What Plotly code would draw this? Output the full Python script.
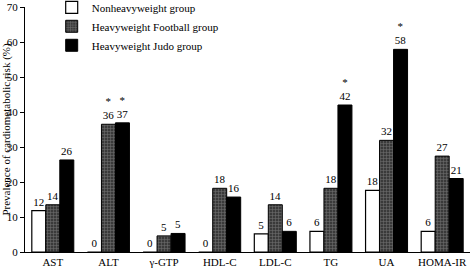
import plotly.graph_objects as go

categories = ["AST", "ALT", "γ-GTP", "HDL-C", "LDL-C", "TG", "UA", "HOMA-IR"]
series_names = ["Nonheavyweight group", "Heavyweight Football group", "Heavyweight Judo group"]
nonheavy = [11.8, 0, 0, 0, 5.2, 5.9, 17.6, 5.9]
football = [13.5, 36.5, 4.6, 18.2, 13.5, 18.2, 31.9, 27.4]
judo = [26.3, 36.9, 5.3, 15.7, 5.9, 42.0, 57.9, 21.0]
nonheavy_labels = ["12", "0", "0", "0", "5", "6", "18", "6"]
football_labels = ["14", "*<br>36", "5", "18", "14", "18", "32", "27"]
judo_labels = ["26", "*<br>37", "5", "16", "6", "*<br>42", "*<br>58", "21"]
y_ticks = [0, 10, 20, 30, 40, 50, 60, 70]

font = "Liberation Serif"
fig = go.Figure()
fig.add_bar(x=categories, y=nonheavy, name=series_names[0], text=nonheavy_labels,
            marker=dict(color="white", line=dict(color="black", width=1.2)))
fig.add_bar(x=categories, y=football, name=series_names[1], text=football_labels,
            marker=dict(color="#3a3a3a", line=dict(color="black", width=1),
                        pattern=dict(shape="+", fgcolor="#a0a0a0", bgcolor="#3a3a3a", size=3, solidity=0.35)))
fig.add_bar(x=categories, y=judo, name=series_names[2], text=judo_labels,
            marker=dict(color="black", line=dict(color="black", width=1)))
fig.update_traces(textposition="outside", cliponaxis=False,
                  textfont=dict(family=font, size=11, color="black"))
fig.update_layout(
    width=471, height=271,
    margin=dict(l=25, r=1, t=7, b=19, autoexpand=False),
    paper_bgcolor="white", plot_bgcolor="white",
    barmode="group", bargap=0.245, bargroupgap=0,
    font=dict(family=font, size=11, color="black"),
    showlegend=True,
    legend=dict(x=0.06, y=1.058, xanchor="left", yanchor="top", bgcolor="rgba(0,0,0,0)",
                font=dict(family=font, size=11), itemwidth=30, tracegroupgap=0,
                traceorder="normal"),
    yaxis=dict(range=[0, 70], tickvals=y_ticks, showgrid=False, zeroline=False,
               showline=True, linecolor="black", linewidth=1, ticks="outside",
               ticklen=4, tickcolor="black", tickfont=dict(family=font, size=11),
               automargin=False,
               title=dict(text="Prevalence of cardiometabolic risk (%)", standoff=2,
                          font=dict(family=font, size=11))),
    xaxis=dict(showgrid=False, showline=True, linecolor="black", linewidth=1,
               ticks="", tickfont=dict(family=font, size=11), range=[-0.5, 7.5],
               automargin=False),
)
fig.write_html("out.html", config={"displayModeBar": False},
               post_script="document.body.style.margin='0';document.body.style.padding='0';")
